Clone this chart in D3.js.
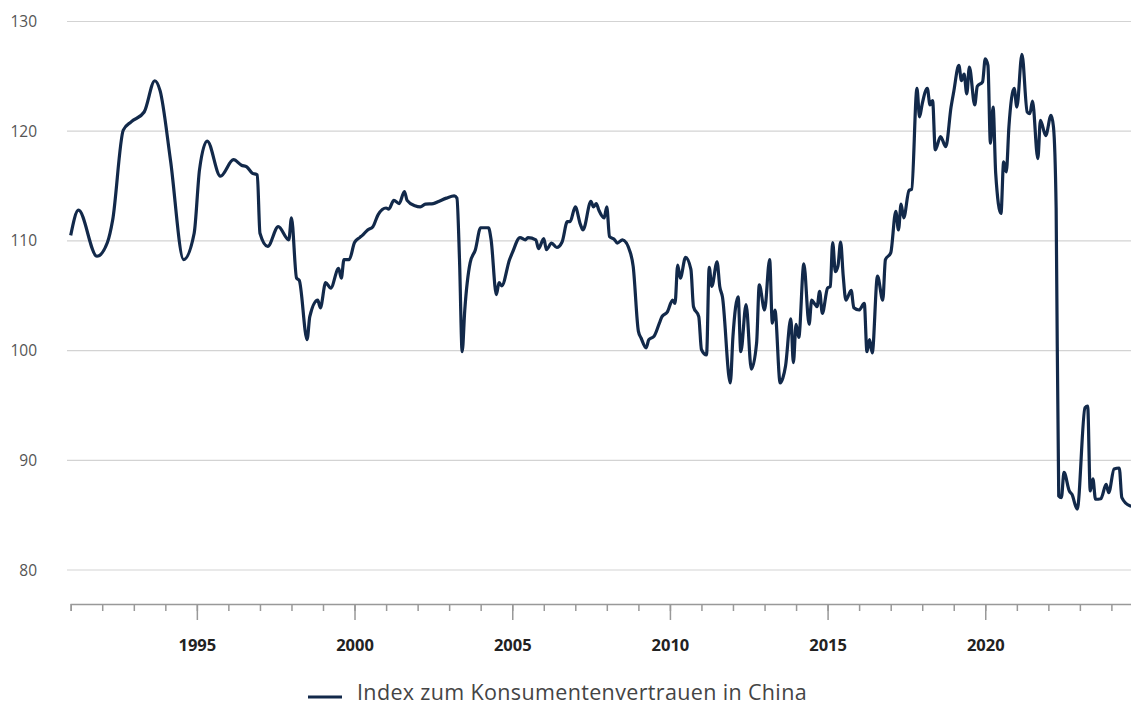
<!DOCTYPE html>
<html>
<head>
<meta charset="utf-8">
<script src="https://cdn.jsdelivr.net/npm/d3@7"></script>
<style>
  body { margin: 0; background: #fff; }
  svg { display: block; font-family: "Open Sans", sans-serif; }
</style>
</head>
<body>
<div id="chart"></div>
<script>
// China consumer confidence index (monthly, key points)
var dates = [
  "1991-01","1991-04","1991-11","1992-03","1992-05","1992-09","1992-12","1993-05","1993-09","1993-11",
  "1994-03","1994-08","1994-12","1995-02","1995-05","1995-10","1996-03","1996-06","1996-08","1996-10",
  "1996-12","1997-01","1997-04","1997-08","1997-12","1998-01","1998-03","1998-04","1998-07","1998-08",
  "1998-11","1998-12","1999-02","1999-04","1999-07","1999-08","1999-09","1999-11","2000-01","2000-03",
  "2000-04","2000-06","2000-08","2000-10","2001-01","2001-02","2001-04","2001-06","2001-08","2001-09",
  "2001-12","2002-02","2002-04","2002-07","2002-09","2002-12","2003-03","2003-04","2003-05","2003-06",
  "2003-07","2003-09","2003-11","2004-01","2004-04","2004-05","2004-07","2004-08","2004-09","2004-12",
  "2005-01","2005-04","2005-06","2005-07","2005-10","2005-11","2006-01","2006-02","2006-04","2006-06",
  "2006-08","2006-10","2006-11","2007-01","2007-03","2007-04","2007-07","2007-08","2007-09","2007-10",
  "2007-12","2008-01","2008-02","2008-04","2008-05","2008-07","2008-10","2008-11","2009-01","2009-02",
  "2009-04","2009-05","2009-07","2009-09","2009-10","2009-12","2010-02","2010-03","2010-04","2010-05",
  "2010-07","2010-09","2010-10","2010-12","2011-01","2011-03","2011-04","2011-05","2011-07","2011-08",
  "2011-09","2011-12","2012-01","2012-03","2012-04","2012-06","2012-08","2012-10","2012-11","2013-01",
  "2013-03","2013-04","2013-05","2013-07","2013-08","2013-09","2013-11","2013-12","2014-01","2014-02",
  "2014-04","2014-06","2014-07","2014-08","2014-09","2014-10","2014-11","2015-01","2015-02","2015-03",
  "2015-04","2015-05","2015-06","2015-07","2015-08","2015-10","2015-11","2016-01","2016-03","2016-04",
  "2016-05","2016-06","2016-08","2016-10","2016-11","2017-01","2017-03","2017-04","2017-05","2017-06",
  "2017-08","2017-09","2017-11","2017-12","2018-01","2018-03","2018-04","2018-05","2018-06","2018-08",
  "2018-10","2018-12","2019-01","2019-03","2019-04","2019-05","2019-06","2019-07","2019-09","2019-10",
  "2019-12","2020-01","2020-02","2020-03","2020-04","2020-05","2020-07","2020-08","2020-09","2020-10",
  "2020-12","2021-01","2021-03","2021-05","2021-06","2021-07","2021-09","2021-10","2021-12","2022-02",
  "2022-03","2022-04","2022-05","2022-06","2022-07","2022-09","2022-10","2022-12","2023-03","2023-04",
  "2023-05","2023-06","2023-07","2023-09","2023-11","2023-12","2024-02","2024-04","2024-05","2024-08",
  "2024-09"
];
var values = [
  110.5,112.8,108.6,109.85,111.9,120.1,120.85,121.75,124.6,123.7,
  117.4,108.3,110.7,116.5,119.1,115.9,117.4,116.9,116.75,116.2,
  116.0,110.7,109.5,111.3,110.1,112.1,106.6,106.4,101.0,103.1,
  104.6,103.9,106.2,105.7,107.5,106.6,108.3,108.3,109.85,110.3,
  110.5,111.0,111.3,112.4,113.0,112.9,113.7,113.4,114.5,113.7,
  113.2,113.1,113.35,113.4,113.6,113.9,114.1,113.9,108.3,99.9,
  103.7,108.0,109.2,111.2,111.2,110.1,105.1,106.2,105.9,108.3,
  108.9,110.3,110.1,110.3,110.1,109.3,110.2,109.2,109.8,109.4,
  109.9,111.75,111.75,113.1,111.5,111.0,113.6,113.1,113.4,112.8,
  112.1,113.1,110.4,110.1,109.8,110.1,108.9,107.7,101.75,101.15,
  100.25,101.0,101.3,102.5,103.1,103.5,104.6,104.3,107.8,106.6,
  108.5,107.4,104.0,103.1,100.1,99.6,107.6,105.85,108.1,105.85,
  104.9,97.05,101.3,104.9,99.9,104.2,98.3,100.7,106.0,103.7,
  108.3,102.5,103.7,97.05,97.5,98.6,102.9,98.9,102.4,101.2,
  107.9,102.4,104.6,104.3,104.0,105.4,103.4,105.7,105.85,109.85,
  107.2,107.7,109.9,106.8,104.6,105.5,103.9,103.7,104.3,99.9,
  101.0,99.8,106.8,104.6,108.3,108.9,112.7,111.0,113.35,112.1,
  114.6,114.7,123.9,121.3,122.5,123.9,122.4,122.8,118.3,119.5,
  118.6,122.2,123.6,126.0,124.6,125.2,123.4,125.85,122.4,124.1,
  124.5,126.6,126.0,118.9,122.2,116.15,112.5,117.2,116.3,120.4,
  123.9,122.2,127.0,121.75,121.6,122.75,117.5,121.0,119.6,121.45,
  120.4,113.0,86.75,86.6,88.9,87.2,86.9,85.55,94.8,94.95,
  87.2,88.3,86.45,86.5,87.8,87.05,89.2,89.3,86.6,85.85,
  85.8
];
var yTicks = [80, 90, 100, 110, 120, 130];
var labelYears = [1995, 2000, 2005, 2010, 2015, 2020];
var seriesName = "Index zum Konsumentenvertrauen in China";

var width = 1131, height = 706;
var parseMonth = d3.timeParse("%Y-%m");
var series = dates.map(function (d, i) {
    return { date: parseMonth(d), value: values[i] };
});

var svg = d3.select("#chart")
    .append("svg")
    .attr("width", width)
    .attr("height", height);

var x = d3.scaleTime()
    .domain([new Date(1991, 0, 1), new Date(2025, 0, 1)])
    .range([70.7, 1143]);

var y = d3.scaleLinear()
    .domain([80, 130])
    .range([570, 21.5]);

// horizontal gridlines
svg.append("g")
    .selectAll("line")
    .data(yTicks)
    .enter().append("line")
    .attr("x1", 67)
    .attr("x2", width)
    .attr("y1", d => y(d))
    .attr("y2", d => y(d))
    .attr("stroke", "#d3d3d3")
    .attr("stroke-width", 1.2);

// y labels
svg.append("g")
    .selectAll("text")
    .data(yTicks)
    .enter().append("text")
    .attr("x", 37)
    .attr("y", d => y(d))
    .attr("dy", "0.36em")
    .attr("text-anchor", "end")
    .attr("font-size", 15.5)
    .attr("fill", "#555")
    .text(d => d);

// x axis: yearly minor ticks, 5-year major ticks with labels
var axisY = 604;
var years = d3.range(1991, 2025).map(yr => new Date(yr, 0, 1));

var minor = svg.append("g")
    .attr("transform", "translate(0," + axisY + ")")
    .call(d3.axisBottom(x).tickValues(years).tickSize(7).tickFormat(""));

var major = svg.append("g")
    .attr("transform", "translate(0," + axisY + ")")
    .call(d3.axisBottom(x)
        .tickValues(labelYears.map(yr => new Date(yr, 0, 1)))
        .tickSize(16)
        .tickPadding(19)
        .tickFormat(d3.timeFormat("%Y")));

[minor, major].forEach(function (g) {
    g.select(".domain").attr("stroke", "#999").attr("stroke-width", 1.5);
    g.selectAll(".tick line").attr("stroke", "#999").attr("stroke-width", 1.5);
});
major.select(".domain").remove();
major.selectAll(".tick text")
    .attr("font-family", "'Open Sans', sans-serif")
    .attr("font-size", 16.5)
    .attr("font-weight", "bold")
    .attr("fill", "#222");

// the line
var line = d3.line()
    .x(d => x(d.date))
    .y(d => y(d.value))
    .curve(d3.curveMonotoneX);

svg.append("path")
    .datum(series)
    .attr("d", line)
    .attr("fill", "none")
    .attr("stroke", "#12294a")
    .attr("stroke-width", 3.2)
    .attr("stroke-linejoin", "round");

// legend
var legend = svg.append("g");
legend.append("line")
    .attr("x1", 308).attr("x2", 342)
    .attr("y1", 697).attr("y2", 697)
    .attr("stroke", "#12294a")
    .attr("stroke-width", 3);
legend.append("text")
    .attr("x", 357)
    .attr("y", 700)
    .attr("font-size", 21.5)
    .attr("letter-spacing", 0.35)
    .attr("fill", "#444")
    .text(seriesName);
</script>
</body>
</html>
